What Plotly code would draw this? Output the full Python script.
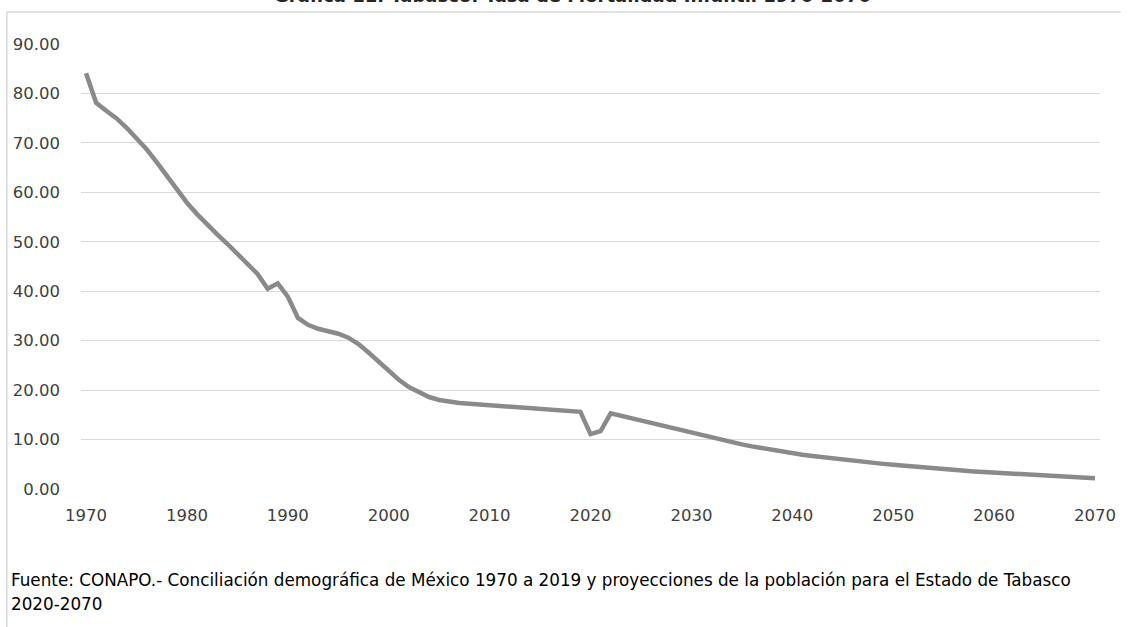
import plotly.graph_objects as go

# ---- data ----
years = list(range(1970, 2071))
tasa = [
    # 1970-1979
    84.1, 78.1, 76.5, 75.0, 73.1, 71.0, 68.7, 66.1, 63.3, 60.5,
    # 1980-1989
    57.9, 55.6, 53.4, 51.5, 49.6, 47.6, 45.6, 43.5, 40.5, 41.6,
    # 1990-1999
    38.9, 34.6, 33.2, 32.4, 31.9, 31.4, 30.6, 29.3, 27.6, 25.7,
    # 2000-2009
    23.9, 22.1, 20.6, 19.5, 18.6, 18.0, 17.6, 17.4, 17.25, 17.1,
    # 2010-2019
    16.95, 16.8, 16.65, 16.5, 16.4, 16.3, 16.2, 16.0, 15.8, 15.6,
    # 2020-2029
    11.1, 11.7, 15.3, 14.8, 14.3, 13.8, 13.3, 12.8, 12.3, 11.8,
    # 2030-2039
    11.30, 10.80, 10.33, 9.87, 9.44, 9.02, 8.62, 8.24, 7.88, 7.53,
    # 2040-2049
    7.20, 6.93, 6.66, 6.41, 6.17, 5.93, 5.71, 5.49, 5.28, 5.08,
    # 2050-2059
    4.89, 4.70, 4.52, 4.34, 4.17, 4.01, 3.85, 3.70, 3.56, 3.42,
    # 2060-2070
    3.29, 3.16, 3.03, 2.91, 2.80, 2.68, 2.58, 2.47, 2.38, 2.28, 2.19,
]
x_ticks = [1970, 1980, 1990, 2000, 2010, 2020, 2030, 2040, 2050, 2060, 2070]
y_ticks = [0, 10, 20, 30, 40, 50, 60, 70, 80, 90]

title_text = "Gráfica 11. Tabasco: Tasa de Mortalidad Infantil 1970-2070"
source_line1 = ("Fuente: CONAPO.- Conciliación demográfica de México 1970 a 2019 y "
                "proyecciones de la población para el Estado de Tabasco")
source_line2 = "2020-2070"

# ---- layout geometry (pixels) ----
W, H = 1128, 627
L, R, T, B = 81, 16, 44, 138
PW, PH = W - L - R, H - T - B


def px(xp):
    return (xp - L) / PW


def py(yp):
    return (H - B - yp) / PH


FONT = "DejaVu Sans"

fig = go.Figure()
fig.add_trace(go.Scatter(
    x=years, y=tasa, mode="lines",
    line=dict(color="#8a8a8a", width=4.5),
    hoverinfo="x+y", showlegend=False,
))

fig.update_layout(
    width=W, height=H,
    margin=dict(l=L, r=R, t=T, b=B),
    paper_bgcolor="white", plot_bgcolor="white",
    font=dict(family=FONT, color="#404040"),
    showlegend=False,
    xaxis=dict(
        range=[1969.5, 2070.5], tickmode="array", tickvals=x_ticks,
        ticktext=[str(v) for v in x_ticks],
        showgrid=False, zeroline=False, showline=False, ticks="",
        tickfont=dict(size=16.5, color="#404040", family=FONT),
        ticklabelstandoff=14,
    ),
    yaxis=dict(
        range=[0, 90], tickmode="array", tickvals=y_ticks,
        ticktext=[f"{v:.2f}" for v in y_ticks],
        showgrid=True, gridcolor="#d9d9d9", gridwidth=1.2,
        zeroline=False, showline=False, ticks="",
        tickfont=dict(size=16.5, color="#404040", family=FONT),
        ticklabelstandoff=20,
    ),
    shapes=[
        dict(type="line", xref="paper", yref="paper",
             x0=px(6), x1=px(W + 5), y0=py(12), y1=py(12),
             line=dict(color="#d9d9d9", width=1.5)),
        dict(type="line", xref="paper", yref="paper",
             x0=px(6), x1=px(6), y0=py(12), y1=py(H + 5),
             line=dict(color="#d9d9d9", width=1.5)),
    ],
    annotations=[
        dict(text=f"<b>{title_text}</b>", xref="paper", yref="paper",
             x=px(578), y=py(-5), xanchor="center", yanchor="middle",
             showarrow=False, font=dict(size=18, color="#262626", family=FONT)),
        dict(text=source_line1, xref="paper", yref="paper",
             x=px(8), y=py(580), xanchor="left", yanchor="middle",
             showarrow=False, font=dict(size=16.8, color="#000000", family=FONT)),
        dict(text=source_line2, xref="paper", yref="paper",
             x=px(8), y=py(604), xanchor="left", yanchor="middle",
             showarrow=False, font=dict(size=16.8, color="#000000", family=FONT)),
    ],
)

fig.write_html("out.html",
               config={"displayModeBar": False},
               post_script="document.body.style.margin='0';document.body.style.overflow='hidden';")
